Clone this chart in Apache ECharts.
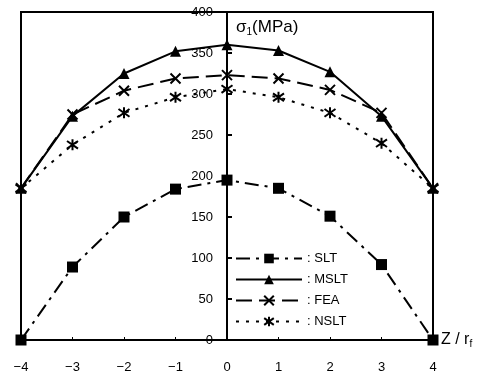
<!DOCTYPE html>
<html><head><meta charset="utf-8">
<script src="https://cdn.jsdelivr.net/npm/echarts@6/dist/echarts.min.js"></script>
<style>html,body{margin:0;padding:0;background:#fff}#c{width:484px;height:376px}</style>
</head><body><div id="c"></div>
<script>
const zPos = [-4, -3, -2, -1, 0, 1, 2, 3, 4];
const SLT  = [0, 89, 150, 184, 195, 185, 151, 92, 0];
const MSLT = [185, 273, 325, 352, 360, 353, 327, 273, 185];
const FEA  = [185, 275, 304, 319, 323, 319, 305, 277, 185];
const NSLT = [185, 238, 277, 296, 306, 296, 277, 240, 185];
const yTicks = [0, 50, 100, 150, 200, 250, 300, 350, 400];

const pair = arr => zPos.map((x, i) => [x, arr[i]]);
const X_SYM = 'path://M0,0L10,10M10,0L0,10';
const AST_SYM = 'path://M5,0L5,10M0,1.5L10,8.5M10,1.5L0,8.5';

const GRID = { left: 21, right: 51, top: 12, bottom: 36 };
const plotW = 484 - GRID.left - GRID.right;

function mk(name, data, dash, symbol, size, hollow) {
  return {
    name, type: 'line', data: pair(data),
    symbol, symbolSize: size, symbolKeepAspect: true,
    lineStyle: { color: '#000', width: 2, type: dash },
    itemStyle: hollow ? { color: '#000', borderColor: '#000', borderWidth: 2 } : { color: '#000', borderWidth: 0 },
    showAllSymbol: true, animation: false
  };
}

const chart = echarts.init(document.getElementById('c'));
chart.setOption({
  animation: false,
  textStyle: { fontFamily: 'Liberation Sans, Arial, sans-serif', color: '#000' },
  grid: Object.assign({ show: true, borderColor: '#000', borderWidth: 2 }, GRID),
  legend: {
    orient: 'vertical', left: 230, top: 247, itemWidth: 66, itemHeight: 12, itemGap: 8,
    formatter: n => ': ' + n,
    textStyle: { fontSize: 13, color: '#000', fontFamily: 'Liberation Sans, Arial, sans-serif' },
    data: ['SLT', 'MSLT', 'FEA', 'NSLT']
  },
  xAxis: {
    type: 'value', min: -4, max: 4, interval: 1,
    axisLine: { onZero: false, lineStyle: { color: '#000', width: 2 } },
    axisTick: { show: true, inside: true, length: 3, lineStyle: { color: '#000', width: 1 } },
    splitLine: { show: false },
    axisLabel: { margin: 21, fontSize: 13, color: '#000', formatter: v => (v < 0 ? '\u2212' + (-v) : '' + v) },
    name: 'Z / r{s|f}', nameLocation: 'end', nameGap: 8,
    nameTextStyle: { fontSize: 16, color: '#000', rich: { s: { fontSize: 10, padding: [9, 0, 0, 0] } } }
  },
  yAxis: {
    type: 'value', min: 0, max: 400, interval: 50,
    offset: -plotW / 2,
    z: 10,
    axisLine: { onZero: false, lineStyle: { color: '#000', width: 2 } },
    axisTick: { show: true, inside: true, length: 5, lineStyle: { color: '#000', width: 2 } },
    splitLine: { show: false },
    axisLabel: { margin: 14, fontSize: 13, color: '#000' },
    name: '\u03c3{s|1}(MPa)', nameLocation: 'end', nameGap: -6,
    nameTextStyle: { fontSize: 17, color: '#000', align: 'left', verticalAlign: 'top', padding: [0, 0, 0, 9],
      rich: { s: { fontSize: 10, padding: [9, 0, 0, 0] } } }
  },
  series: [
    mk('SLT', SLT, [14, 6, 3, 6], 'rect', 11, false),
    mk('MSLT', MSLT, 'solid', 'triangle', 11, false),
    mk('FEA', FEA, [16, 7], X_SYM, 10, true),
    mk('NSLT', NSLT, [3, 7], AST_SYM, 11, true)
  ]
});
</script></body></html>
